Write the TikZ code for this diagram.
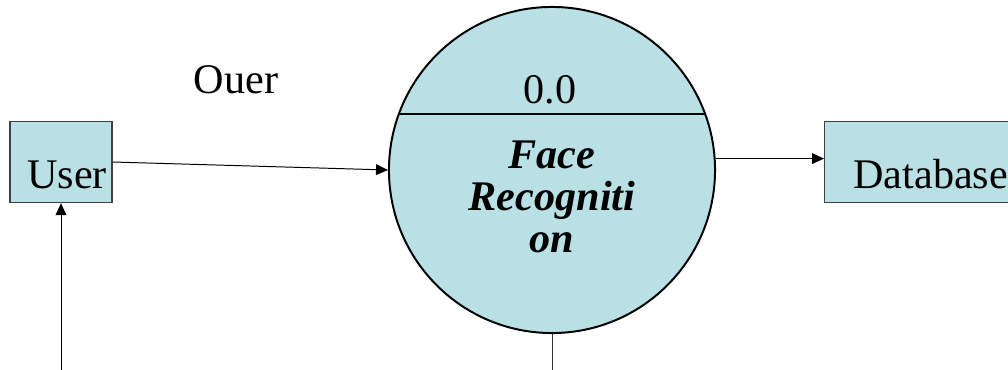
\documentclass[tikz,border=0pt]{standalone}
\usepackage{fontspec}
\setmainfont{Liberation Serif}
\usepackage{xcolor}
\usepackage{tikz}
\usetikzlibrary{arrows.meta}

\definecolor{dfdfill}{RGB}{185,224,228}

\begin{document}
\begin{tikzpicture}[
        x=0.025cm, y=-0.025cm,
        font=\fontsize{30}{30}\selectfont,
        entity/.style={rectangle, draw=black!75, line width=1pt, fill=dfdfill, text height=1.3cm, text depth=0pt, inner ysep=0pt, minimum height=2.025cm},
        process/.style={circle, draw=black, line width=1.4pt, fill=dfdfill, minimum size=8.15cm, inner sep=0pt},
        flow/.style={-{Triangle[length=0.3cm, width=0.27cm]}, line width=0.7pt, draw=black},
        plain/.style={line width=0.7pt, draw=black!80},
    ]
        \useasboundingbox (0,0) rectangle (1008,369);
        \clip (0,0) rectangle (1008,369);

        % External entities
        \node[entity, text width=2.3cm, align=right, inner xsep=0.125cm] (user) at (61,162) {User};
        \node[entity, anchor=west, text width=4cm, align=left, inner xsep=0.72cm] (db) at (824,162) {Database};

        % Process bubble
        \node[process] (proc) at (552,170) {};
        \draw[line width=1pt] (proc.160) -- (proc.20);
        \node[anchor=base] (procid) at (550,103) {0.0};
        \node[font=\fontsize{30}{30}\selectfont\bfseries\itshape, align=center] (procname) at (552,197) {Face\\Recogniti\\on};

        % Flow label
        \node[anchor=base] (ouer) at (236,93) {Ouer};

        % Free ends leaving the bottom edge
        \coordinate (userin) at (61,380);
        \coordinate (procout) at (552,380);

        % Flows
        \draw[flow] (user.east) -- (proc.west);
        \draw[flow] (proc.4) -- (proc.4 -| db.west);
        \draw[flow] (userin) -- (user.south);
        \draw[plain] (proc.south) -- (procout);
    \end{tikzpicture}
\end{document}
